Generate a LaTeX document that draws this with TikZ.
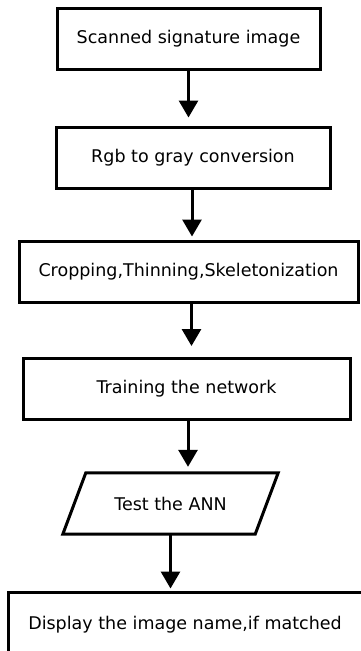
\documentclass[tikz,border=0pt]{standalone}
\usepackage{fontspec}
\setmainfont{DejaVu Sans}
\usetikzlibrary{arrows.meta}

\begin{document}
\begin{tikzpicture}[x=1pt, y=-1pt,
        every node/.style={font=\fontsize{17.5}{20}\selectfont},
        stepbox/.style={draw, line width=3pt, minimum height=61pt, inner sep=0pt},
        iobox/.style={minimum height=61pt, inner sep=0pt},
        flow/.style={line width=3pt, -{Triangle[width=19pt,length=17pt]}}]
      \useasboundingbox (0,0) rectangle (360,651);
      \node[stepbox, minimum width=263pt] (SCAN) at (188.5,38.5) {Scanned signature image};
      \node[stepbox, minimum width=274pt] (GRAY) at (193,157.5) {Rgb to gray conversion};
      \node[stepbox, minimum width=339pt] (CROP) at (188.5,271.5) {Cropping,Thinning,Skeletonization};
      \node[stepbox, minimum width=327pt] (TRAIN) at (186.5,389) {Training the network};
      \node[iobox, minimum width=192pt] (TEST) at (170.5,503.5) {Test the ANN};
      \draw[line width=3pt] ([xshift=11.5pt]TEST.north west) -- ([xshift=11.5pt]TEST.north east)
            -- ([xshift=-11.5pt]TEST.south east) -- ([xshift=-11.5pt]TEST.south west) -- cycle;
      \node[stepbox, minimum width=354pt, minimum height=66pt] (DISP) at (185,625) {Display the image name,if matched};
      % arrows between steps
      \draw[flow] (SCAN.south) -- ([yshift=8pt]SCAN.south |- GRAY.north);
      \draw[flow] ([xshift=-1pt]GRAY.south) -- ([xshift=-1pt,yshift=3pt]GRAY.south |- CROP.north);
      \draw[flow] ([xshift=3pt]CROP.south) -- ([xshift=3pt,yshift=11pt]CROP.south |- TRAIN.north);
      \draw[flow] ([xshift=1.5pt]TRAIN.south) -- ([xshift=1.5pt,yshift=6pt]TRAIN.south |- TEST.north);
      \draw[flow] (TEST.south) -- ([yshift=2pt]TEST.south |- DISP.north);
    \end{tikzpicture}
\end{document}
